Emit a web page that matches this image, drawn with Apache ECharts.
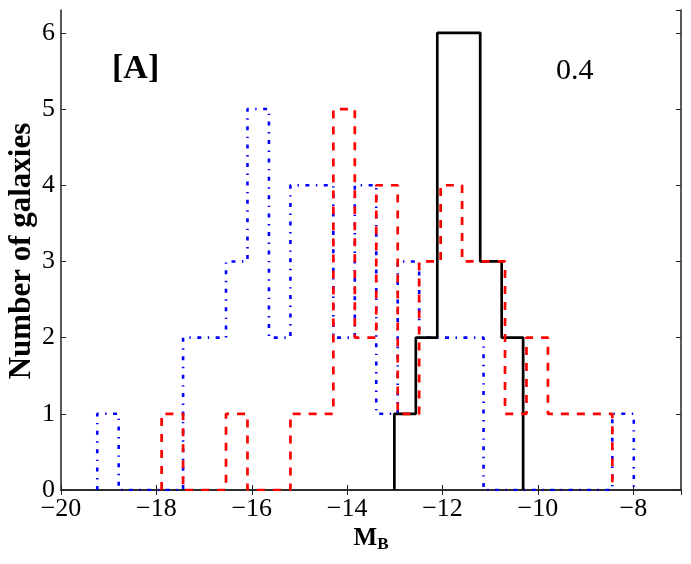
<!DOCTYPE html>
<html>
<head>
<meta charset="utf-8">
<script src="https://cdn.jsdelivr.net/npm/echarts@6/dist/echarts.min.js"></script>
<style>
  html, body { margin: 0; padding: 0; background: #fff; }
  #histChart { width: 691px; height: 564px; }
</style>
</head>
<body>
<div id="histChart"></div>
<script>
// histogram data: counts per bin, bins are binWidth wide
var binWidth = 0.45;
var blueStart = -19.24;
var blueCounts = [1, 0, 0, 0, 2, 2, 3, 5, 2, 4, 4, 2, 4, 1, 3, 2, 2, 2, 0, 0, 0, 0, 0, 0, 1];
var redStart = -17.89;
var redCounts = [1, 0, 0, 1, 0, 0, 1, 1, 5, 2, 4, 1, 3, 4, 3, 3, 1, 2, 1, 1, 1];
var blackStart = -13.01;
var blackCounts = [1, 2, 6, 6, 3, 2];
var xTicks = [-20, -18, -16, -14, -12, -10, -8];
var yTicks = [0, 1, 2, 3, 4, 5, 6];

var serif = '"Liberation Serif", "DejaVu Serif", serif';

// outline of a step histogram, like matplotlib histtype='step'
function stepOutline(start, counts) {
    var pts = [[start, 0]];
    for (var i = 0; i < counts.length; i++) {
        var x0 = start + i * binWidth;
        var x1 = start + (i + 1) * binWidth;
        pts.push([x0, counts[i]]);
        pts.push([x1, counts[i]]);
    }
    pts.push([start + counts.length * binWidth, 0]);
    return pts;
}

function minusSign(v) {
    return String(v).replace('-', '\u2212');
}

var axisColor = '#222';

var chart = echarts.init(document.getElementById('histChart'));

var option = {
    animation: false,
    grid: { left: 61, right: 10, top: 10, bottom: 74, outerBoundsMode: 'none', containLabel: false },
    xAxis: [
        {
            type: 'value',
            min: xTicks[0],
            max: -7,
            interval: 2,
            position: 'bottom',
            name: '{m|M}{s|B}',
            nameLocation: 'middle',
            nameGap: 34,
            nameMoveOverlap: false,
            nameTextStyle: {
                verticalAlign: 'top',
                rich: {
                    m: { fontFamily: serif, fontWeight: 'bold', fontSize: 25, color: '#000' },
                    s: { fontFamily: serif, fontWeight: 'bold', fontSize: 17, color: '#000', verticalAlign: 'bottom', padding: [12, 0, 0, 0] }
                }
            },
            axisLine: { show: true, lineStyle: { color: axisColor, width: 1.5 } },
            axisTick: { show: true, inside: true, length: 5, lineStyle: { color: axisColor } },
            axisLabel: {
                margin: 6,
                showMaxLabel: false,
                fontFamily: serif,
                fontSize: 26,
                color: '#000',
                formatter: minusSign
            },
            splitLine: { show: false }
        },
        {
            type: 'value',
            min: xTicks[0],
            max: -7,
            interval: 2,
            position: 'top',
            axisLine: { show: true, lineStyle: { color: axisColor, width: 1.5 } },
            axisTick: { show: true, inside: true, length: 5, lineStyle: { color: axisColor } },
            axisLabel: { show: false },
            splitLine: { show: false }
        }
    ],
    yAxis: [
        {
            type: 'value',
            min: yTicks[0],
            max: 6.3,
            interval: 1,
            position: 'left',
            axisLine: { show: true, lineStyle: { color: axisColor, width: 1.5 } },
            axisTick: { show: true, inside: true, length: 5, lineStyle: { color: axisColor } },
            axisLabel: {
                margin: 6,
                showMaxLabel: false,
                fontFamily: serif,
                fontSize: 26,
                color: '#000'
            },
            splitLine: { show: false }
        },
        {
            type: 'value',
            min: yTicks[0],
            max: 6.3,
            interval: 1,
            position: 'right',
            axisLine: { show: true, lineStyle: { color: axisColor, width: 1.5 } },
            axisTick: { show: true, inside: true, length: 5, lineStyle: { color: axisColor } },
            axisLabel: { show: false },
            splitLine: { show: false }
        }
    ],
    series: [
        {
            name: 'blue',
            type: 'line',
            symbol: 'none',
            data: stepOutline(blueStart, blueCounts),
            lineStyle: { color: '#0000ff', width: 2.6, type: [4, 6.5, 1.4, 6.5], cap: 'butt' },
            z: 2
        },
        {
            name: 'black',
            type: 'line',
            symbol: 'none',
            data: stepOutline(blackStart, blackCounts),
            lineStyle: { color: '#000000', width: 2.7, type: 'solid' },
            z: 3
        },
        {
            name: 'red',
            type: 'line',
            symbol: 'none',
            data: stepOutline(redStart, redCounts),
            lineStyle: { color: '#ff0000', width: 2.7, type: [8, 8], cap: 'butt' },
            z: 4
        }
    ],
    graphic: [
        {
            // y axis title, placed by hand
            type: 'text',
            x: 22,
            y: 251,
            rotation: Math.PI / 2,
            style: {
                text: 'Number of galaxies',
                font: 'bold 31px ' + serif,
                fill: '#000',
                align: 'center',
                verticalAlign: 'middle'
            }
        },
        {
            type: 'text',
            left: 112,
            top: 52,
            style: { text: '[A]', font: 'bold 34px ' + serif, fill: '#000' }
        },
        {
            type: 'text',
            left: 556,
            top: 56,
            style: { text: '0.4', font: '30px ' + serif, fill: '#000' }
        }
    ]
};

chart.setOption(option);
</script>
</body>
</html>
